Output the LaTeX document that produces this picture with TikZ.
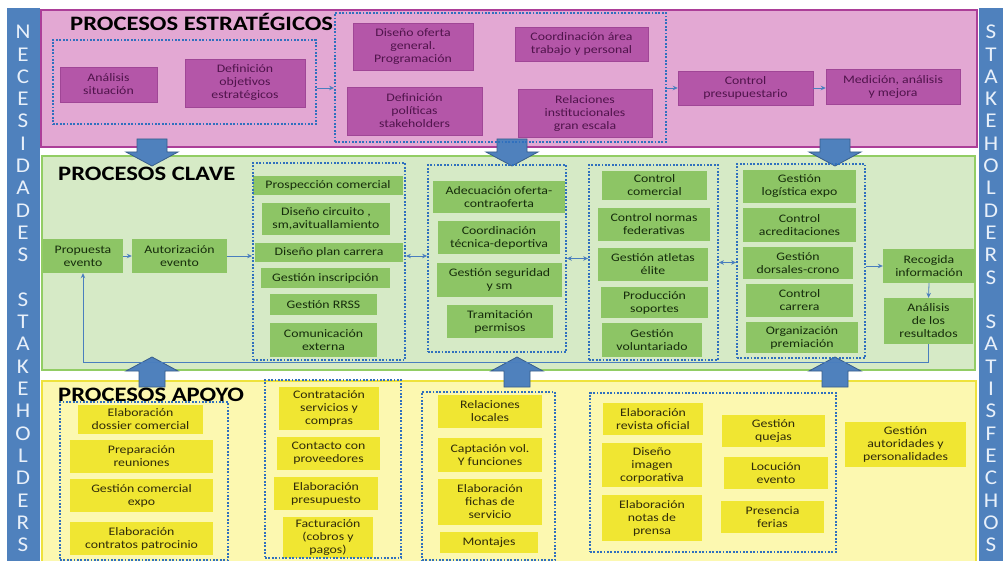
\documentclass[tikz,border=0pt]{standalone}
\usepackage{fontspec}
\setmainfont{Carlito}[FakeStretch=1.2]
\newfontfamily\barfont{Carlito}[FakeStretch=1.1]
\usetikzlibrary{arrows.meta,calc}
\definecolor{pinkbg}{RGB}{227,168,211}
\definecolor{pinkline}{RGB}{172,62,152}
\definecolor{pinkbox}{RGB}{180,86,168}
\definecolor{pinkboxline}{RGB}{160,70,150}
\definecolor{pinktext}{RGB}{80,20,76}
\definecolor{greenbg}{RGB}{214,234,198}
\definecolor{greenline}{RGB}{146,205,100}
\definecolor{greenbox}{RGB}{141,197,101}
\definecolor{greentext}{RGB}{22,44,12}
\definecolor{yellowbg}{RGB}{252,248,176}
\definecolor{yellowline}{RGB}{238,226,60}
\definecolor{yellowbox}{RGB}{240,230,50}
\definecolor{yellowtext}{RGB}{48,43,10}
\definecolor{barblue}{RGB}{79,129,189}
\definecolor{barletter}{RGB}{232,240,250}
\definecolor{dotblue}{RGB}{48,112,190}
\definecolor{connblue}{RGB}{74,126,190}
\definecolor{arrowblue}{RGB}{79,129,189}
\definecolor{arrowline}{RGB}{56,93,138}
\tikzset{
  boxbase/.style={inner sep=1pt, align=center, font=\fontsize{11.5}{13}\selectfont},
  pbox/.style={boxbase, fill=pinkbox, draw=pinkboxline, line width=0.5pt, text=pinktext},
  gbox/.style={boxbase, fill=greenbox, text=greentext},
  ybox/.style={boxbase, fill=yellowbox, text=yellowtext},
  ppanel/.style={inner sep=0pt, fill=pinkbg, draw=pinkline, line width=2.2pt},
  gpanel/.style={inner sep=0pt, fill=greenbg, draw=greenline, line width=2pt},
  ypanel/.style={inner sep=0pt, fill=yellowbg, draw=yellowline, line width=2pt},
  sidebar/.style={inner sep=0pt, fill=barblue},
  dotbox/.style={inner sep=0pt, draw=dotblue, line width=1.8pt, dash pattern=on 1.8pt off 1.6pt},
  conn/.style={draw=connblue, line width=0.8pt, -{Stealth[length=5pt,width=4.5pt]}},
  bconn/.style={draw=connblue, line width=0.8pt, {Stealth[length=5pt,width=4.5pt]}-{Stealth[length=5pt,width=4.5pt]}},
  ptitle/.style={font=\bfseries\fontsize{20.5}{22}\selectfont, anchor=west, inner sep=0pt, text=black},
  barchar/.style={text=barletter, font=\barfont\fontsize{21}{21}\selectfont, inner sep=0pt},
  bigarrow/.style={fill=arrowblue, draw=arrowline, line width=0.8pt},
}
\newcommand{\bx}[7]{\node[#1, minimum width={#5-#3}, minimum height={#6-#4}] (#2) at ({(#3+#5)/2},{(#4+#6)/2}) {#7};}
\newcommand{\downarr}[1]{\draw[bigarrow] ({#1-15},139) -- ({#1+15},139) -- ({#1+15},152) -- ({#1+26},152) -- (#1,166) -- ({#1-26},152) -- ({#1-15},152) -- cycle;}
\newcommand{\uparr}[1]{\draw[bigarrow] ({#1-13},387) -- ({#1+13},387) -- ({#1+13},371) -- ({#1+26},371) -- (#1,357) -- ({#1-26},371) -- ({#1-13},371) -- cycle;}
\begin{document}
\begin{tikzpicture}[x=1pt,y=-1pt]
\useasboundingbox[fill=white] (0,0) rectangle (1003,561);
% side bars
\bx{sidebar}{LB}{7}{8}{40}{561}{}
\bx{sidebar}{RB}{979}{8}{1010}{561}{}
\foreach \ch [count=\i from 0] in {N,E,C,E,S,I,D,A,D,E,S}
  \node[barchar] (la\i) at (23,{32+\i*22.3}) {\ch};
\foreach \ch [count=\i from 12] in {S,T,A,K,E,H,O,L,D,E,R,S}
  \node[barchar] (lb\i) at (23,{32+\i*22.3}) {\ch};
\foreach \ch [count=\i from 0] in {S,T,A,K,E,H,O,L,D,E,R,S}
  \node[barchar] (ra\i) at (991,{32+\i*22.3}) {\ch};
\foreach \ch [count=\i from 13] in {S,A,T,I,S,F,E,C,H,O,S}
  \node[barchar] (rb\i) at (991,{32+\i*22.3}) {\ch};
% panels
\bx{ppanel}{PE}{41}{10}{977}{147}{}
\bx{gpanel}{PC}{42}{156}{975}{370}{}
\bx{ypanel}{PA}{42}{381}{976}{566}{}
% big arrows
\downarr{152}
\downarr{512}
\downarr{835}
\uparr{152}
\uparr{517}
\uparr{835}
% titles
\node[ptitle] (tE) at (70,22) {PROCESOS ESTRATÉGICOS};
\node[ptitle] (tC) at (58,174) {PROCESOS CLAVE};
\node[ptitle] (tA) at (58,395) {PROCESOS APOYO};
% ---------- estrategicos
\bx{pbox}{an}{60}{67}{157}{102}{Análisis\\situación}
\bx{pbox}{dobj}{185}{59}{305}{107}{Definición\\objetivos\\estratégicos}
\bx{pbox}{dof}{353}{23}{473}{70}{Diseño oferta\\general.\\Programación}
\bx{pbox}{coor}{515}{27}{648}{61}{Coordinación área\\trabajo y personal}
\bx{pbox}{dpol}{347}{87}{482}{135}{Definición\\políticas\\stakeholders}
\bx{pbox}{rel}{518}{89}{652}{137}{Relaciones\\institucionales\\gran escala}
\bx{pbox}{cpres}{678}{71}{813}{105}{Control\\presupuestario}
\bx{pbox}{med}{826}{69}{960}{104}{Medición, análisis\\y mejora}
\bx{dotbox}{dA}{53}{40}{316}{124}{}
\bx{dotbox}{dB}{335}{13}{666}{142}{}
\draw[conn] (dA.east |- cpres.west) -- (dB.west |- cpres.west);
\draw[conn] (dB.east |- cpres.west) -- (cpres.west);
\draw[conn] (cpres.east) -- (med.west |- cpres.east);
% ---------- clave
\bx{gbox}{prop}{43}{239}{123}{273}{Propuesta\\evento}
\bx{gbox}{aut}{132}{239}{227}{273}{Autorización\\evento}
\bx{gbox}{c1}{253}{176}{403}{195}{Prospección comercial}
\bx{gbox}{c2}{262}{203}{390}{235}{Diseño circuito ,\\sm,avituallamiento}
\bx{gbox}{c3}{255}{243}{403}{262}{Diseño plan carrera}
\bx{gbox}{c4}{261}{268}{390}{288}{Gestión inscripción}
\bx{gbox}{c5}{270}{294}{377}{315}{Gestión RRSS}
\bx{gbox}{c6}{270}{323}{377}{357}{Comunicación\\externa}
\bx{gbox}{d1}{433}{181}{565}{213}{Adecuación oferta-\\contraoferta}
\bx{gbox}{d2}{438}{221}{560}{254}{Coordinación\\técnica-deportiva}
\bx{gbox}{d3}{437}{263}{562}{297}{Gestión seguridad\\y sm}
\bx{gbox}{d4}{447}{305}{553}{338}{Tramitación\\permisos}
\bx{gbox}{e1}{602}{171}{707}{200}{Control\\comercial}
\bx{gbox}{e2}{598}{208}{710}{241}{Control normas\\federativas}
\bx{gbox}{e3}{598}{248}{708}{281}{Gestión atletas\\élite}
\bx{gbox}{e4}{601}{287}{708}{318}{Producción\\soportes}
\bx{gbox}{e5}{602}{323}{702}{357}{Gestión\\voluntariado}
\bx{gbox}{f1}{743}{170}{856}{203}{Gestión\\logística expo}
\bx{gbox}{f2}{743}{208}{856}{242}{Control\\acreditaciones}
\bx{gbox}{f3}{743}{247}{853}{279}{Gestión\\dorsales-crono}
\bx{gbox}{f4}{746}{284}{853}{317}{Control\\carrera}
\bx{gbox}{f5}{746}{322}{858}{353}{Organización\\premiación}
\bx{gbox}{rec}{883}{249}{975}{283}{Recogida\\información}
\bx{gbox}{anr}{884}{298}{973}{344}{Análisis\\de los\\resultados}
\bx{dotbox}{dC}{253}{163}{405}{360}{}
\bx{dotbox}{dD}{428}{165}{566}{352}{}
\bx{dotbox}{dE}{589}{165}{718}{360}{}
\bx{dotbox}{dF}{737}{164}{865}{358}{}
\draw[conn] (prop.east) -- (aut.west);
\draw[conn] (aut.east) -- (dC.west |- aut.east);
\draw[bconn] (dC.east |- aut.east) -- (dD.west |- aut.east);
\draw[bconn] (dD.east) -- (dE.west |- dD.east);
\draw[bconn] (dE.east) -- (dF.west |- dE.east);
\draw[conn] (dF.east |- rec.west) -- (rec.west);
\draw[conn] (rec.south) -- (anr.north);
\draw[conn] (anr.south) -- ++(0,18) -| (prop.south);
% ---------- apoyo
\bx{ybox}{g1}{78}{405}{203}{434}{Elaboración\\dossier comercial}
\bx{ybox}{g2}{70}{440}{213}{473}{Preparación\\reuniones}
\bx{ybox}{g3}{70}{479}{213}{512}{Gestión comercial\\expo}
\bx{ybox}{g4}{70}{522}{213}{555}{Elaboración\\contratos patrocinio}
\bx{ybox}{h1}{279}{387}{379}{430}{Contratación\\servicios y\\compras}
\bx{ybox}{h2}{277}{437}{380}{470}{Contacto con\\proveedores}
\bx{ybox}{h3}{274}{477}{378}{510}{Elaboración\\presupuesto}
\bx{ybox}{h4}{283}{517}{373}{558}{Facturación\\(cobros y\\pagos)}
\bx{ybox}{i1}{438}{395}{542}{428}{Relaciones\\locales}
\bx{ybox}{i2}{438}{438}{542}{472}{Captación vol.\\Y funciones}
\bx{ybox}{i3}{438}{479}{542}{525}{Elaboración\\fichas de\\servicio}
\bx{ybox}{i4}{440}{532}{538}{553}{Montajes}
\bx{ybox}{j1}{603}{403}{703}{435}{Elaboración\\revista oficial}
\bx{ybox}{j2}{602}{443}{702}{487}{Diseño\\imagen\\corporativa}
\bx{ybox}{j3}{602}{495}{702}{541}{Elaboración\\notas de\\prensa}
\bx{ybox}{j4}{722}{415}{825}{447}{Gestión\\quejas}
\bx{ybox}{j5}{724}{457}{828}{489}{Locución\\evento}
\bx{ybox}{j6}{721}{501}{824}{533}{Presencia\\ferias}
\bx{ybox}{gaut}{845}{422}{966}{467}{Gestión\\autoridades y\\personalidades}
\bx{dotbox}{dG}{60}{402}{228}{560}{}
\bx{dotbox}{dH}{265}{380}{401}{558}{}
\bx{dotbox}{dI}{422}{392}{555}{560}{}
\bx{dotbox}{dJ}{590}{393}{836}{552}{}
\end{tikzpicture}
\end{document}
